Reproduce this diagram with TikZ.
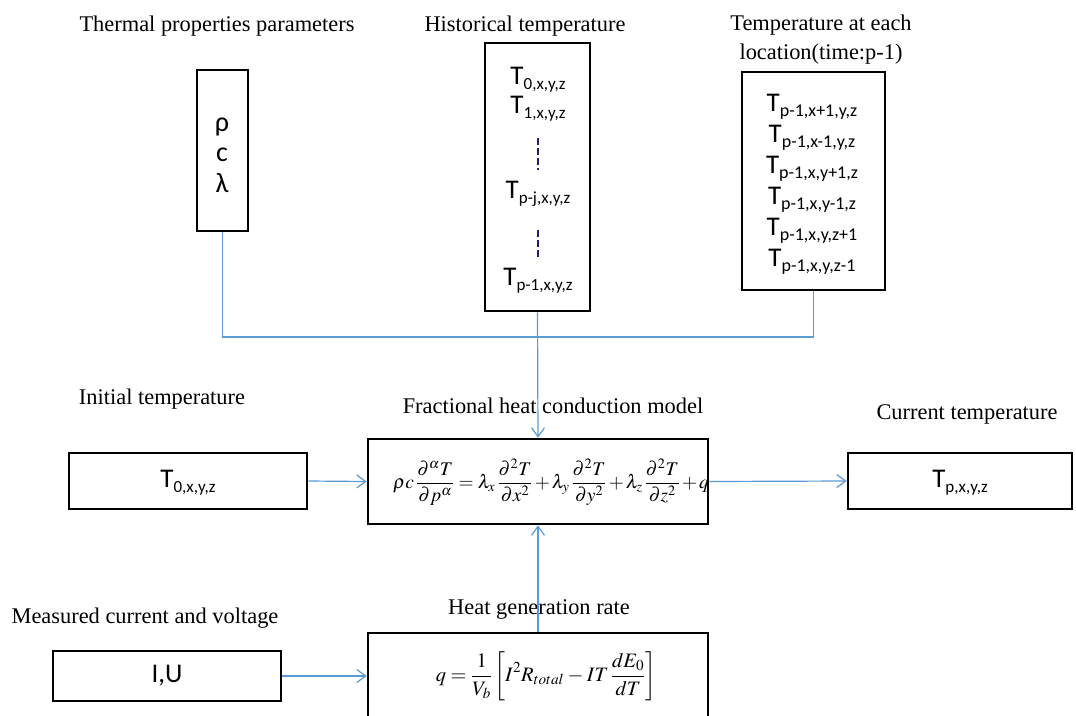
\RequirePackage{fix-cm}
\documentclass[tikz,border=0pt]{standalone}
\usepackage{mathptmx}
\usepackage{fontspec}
\setmainfont{Liberation Serif}
\newfontfamily\boxfont{Carlito}
\usetikzlibrary{arrows.meta}
\definecolor{linkblue}{HTML}{5B9BD5}
\definecolor{dashnavy}{HTML}{1F1F6E}
\newcommand\Tt[1]{{\fontsize{27}{27}\selectfont T}\raisebox{-5pt}{\fontsize{18}{18}\selectfont #1}}
\newcommand\Ts[1]{{\fontsize{27}{27}\selectfont T}\raisebox{-5pt}{\fontsize{17}{17}\selectfont #1}}
\tikzset{
  box/.style={draw, line width=2.6pt, inner sep=0pt, fill=white},
  captxt/.style={font=\fontsize{22.4}{29}\selectfont, inner sep=0pt, align=center},
  btxt/.style={font=\boxfont, inner sep=0pt},
  greek/.style={font=\boxfont\fontsize{28}{28}\selectfont, inner sep=0pt},
  eqtxt/.style={inner sep=0pt, font=\fontsize{19.3}{24}\selectfont},
  conn/.style={draw=linkblue, line width=1.2pt},
  arr/.style={conn, -{Straight Barb[length=9pt,width=13pt]}},
  vdash/.style={draw=dashnavy, line width=1.4pt, dash pattern=on 7pt off 3pt}
}
\begin{document}
\begin{tikzpicture}[x=1pt,y=-1pt]
\clip (0,0) rectangle (1076,715);
\fill[white] (0,0) rectangle (1076,715);
% captions
\node[captxt] (c1) at (217,26) {Thermal properties parameters};
\node[captxt] (c2) at (525,26) {Historical temperature};
\node[captxt] (c3) at (821,40) {Temperature at each\\location(time:p-1)};
\node[captxt] (c4) at (162,399) {Initial temperature};
\node[captxt] (c5) at (553,406) {Fractional heat conduction model};
\node[captxt] (c6) at (967,414) {Current temperature};
\node[captxt] (c7) at (145,618) {Measured current and voltage};
\node[captxt] (c8) at (539,609) {Heat generation rate};
% boxes
\node[box, minimum width=51pt, minimum height=161pt] (rho) at (222.5,150.5) {};
\node[box, minimum width=105pt, minimum height=268pt] (hist) at (537.5,177) {};
\node[box, minimum width=143pt, minimum height=218pt] (loc) at (813.5,181) {};
\node[box, minimum width=238pt, minimum height=56pt] (init) at (188,481) {};
\node[box, minimum width=340pt, minimum height=85pt] (model) at (538,481.5) {};
\node[box, minimum width=224pt, minimum height=56pt] (cur) at (960,481) {};
\node[box, minimum width=228pt, minimum height=50pt] (iu) at (167,676) {};
\node[box, minimum width=340pt, minimum height=90pt] (heat) at (538,678) {};
% rho box text
\node[greek] (r1) at (222,127) {ρ};
\node[greek] (r2) at (222,155) {c};
\node[greek] (r3) at (222,183) {λ};
% historical box text
\node[btxt] (h1) at (538,80) {\Ts{0,x,y,z}};
\node[btxt] (h2) at (538,109) {\Ts{1,x,y,z}};
\node[btxt] (h3) at (538,194) {\Ts{p-j,x,y,z}};
\node[btxt] (h4) at (538,281) {\Ts{p-1,x,y,z}};
\coordinate (d1a) at (538,138);
\coordinate (d1b) at (538,170);
\coordinate (d2a) at (538,230);
\coordinate (d2b) at (538,260);
\draw[vdash] (d1a) -- (d1b);
\draw[vdash] (d2a) -- (d2b);
% location box text
\node[btxt] (l1) at (812,107) {\Tt{p-1,x+1,y,z}};
\node[btxt] (l2) at (812,138) {\Tt{p-1,x-1,y,z}};
\node[btxt] (l3) at (812,169) {\Tt{p-1,x,y+1,z}};
\node[btxt] (l4) at (812,200) {\Tt{p-1,x,y-1,z}};
\node[btxt] (l5) at (812,231) {\Tt{p-1,x,y,z+1}};
\node[btxt] (l6) at (812,262) {\Tt{p-1,x,y,z-1}};
% single-line boxes
\node[btxt] (it) at (188,483) {\Ts{0,x,y,z}};
\node[btxt] (ct) at (960,483) {\Ts{p,x,y,z}};
\node[btxt, font=\boxfont\fontsize{27}{27}\selectfont] (iut) at (167,676) {I,U};
% formulas
\node[eqtxt] (eq1) at (551,482)
  {\medmuskip=2mu$\displaystyle \rho c\,\frac{\partial^{\alpha} T}{\partial p^{\alpha}} = \lambda_x\,\frac{\partial^2 T}{\partial x^2} + \lambda_y\,\frac{\partial^2 T}{\partial y^2} + \lambda_z\,\frac{\partial^2 T}{\partial z^2} + q$};
\node[eqtxt, font=\fontsize{20.5}{24}\selectfont] (eq2) at (546,676)
  {\medmuskip=3mu$\displaystyle q = \frac{1}{V_b}\left[ I^2 R_{total} - IT\,\frac{dE_0}{dT}\right]$};
% connectors
\coordinate (jy) at (0,337);
\coordinate (jl) at (rho.south |- jy);
\coordinate (jr) at (loc.south |- jy);
\draw[conn] (rho.south) -- (jl) -- (jr) -- (loc.south);
\draw[arr] (hist.south) -- (model.north);
\draw[arr] (init.east) -- (model.west);
\draw[arr] (model.east) -- (cur.west);
\draw[arr] (heat.north) -- (model.south);
\draw[arr] (iu.east) -- (heat.west |- iu.east);
\end{tikzpicture}
\end{document}
